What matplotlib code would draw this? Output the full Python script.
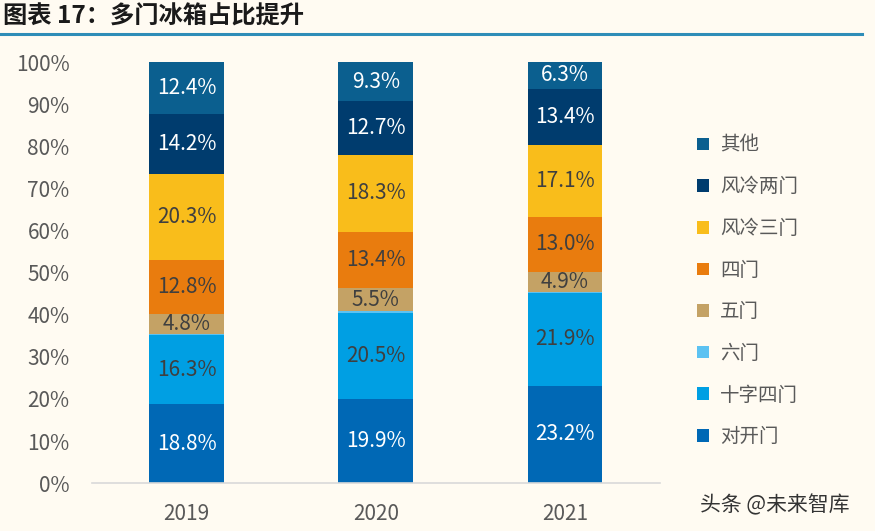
import numpy as np
import matplotlib
matplotlib.use("Agg")
import matplotlib.pyplot as plt
from matplotlib.patches import Patch

plt.rcParams["font.family"] = ["Noto Sans CJK SC", "DejaVu Sans"]

years = ["2019", "2020", "2021"]
series = ["对开门", "十字四门", "六门", "五门", "四门", "风冷三门", "风冷两门", "其他"]
duikai = [18.8, 19.9, 23.2]
shizi = [16.3, 20.5, 21.9]
liumen = [0.4, 0.4, 0.2]
wumen = [4.8, 5.5, 4.9]
simen = [12.8, 13.4, 13.0]
fl_san = [20.3, 18.3, 17.1]
fl_liang = [14.2, 12.7, 13.4]
qita = [12.4, 9.3, 6.3]

values = [duikai, shizi, liumen, wumen, simen, fl_san, fl_liang, qita]
colors = ["#0068B5", "#009FE3", "#5CC2F2", "#C4A265", "#E97C0E",
          "#F9BD1B", "#003C6E", "#0B5F8F"]
label_colors = ["white", "#3F3F3F", "#3F3F3F", "#3F3F3F", "#3F3F3F",
                "#3F3F3F", "white", "white"]

bg = "#FFFBF2"
fig = plt.figure(figsize=(8.75, 5.31), dpi=100, facecolor=bg)
ax = fig.add_axes([0.105, 0.090, 0.649, 0.793], facecolor=bg)

x = np.arange(len(years))
bottom = np.zeros(len(years))
for vals, col, lc in zip(values, colors, label_colors):
    vals = np.array(vals)
    ax.bar(x, vals, 0.395, bottom=bottom, color=col, linewidth=0)
    for xi, b, v in zip(x, bottom, vals):
        if v >= 1:
            ax.text(xi, b + v / 2, f"{v:.1f}%", ha="center", va="center",
                    fontsize=15, color=lc)
    bottom += vals

ax.set_xlim(-0.5, 2.5)
ax.set_ylim(0, 100)
ax.set_yticks(np.arange(0, 101, 10))
ax.set_yticklabels([f"{v}%" for v in range(0, 101, 10)])
ax.set_xticks(x)
ax.set_xticklabels(years)
ax.tick_params(axis="both", length=0, labelsize=15, colors="#595959")
ax.tick_params(axis="y", pad=16)
ax.tick_params(axis="x", pad=14)
for s in ["top", "right", "left"]:
    ax.spines[s].set_visible(False)
ax.spines["bottom"].set_color("#D9D9D9")
ax.spines["bottom"].set_linewidth(1.2)

handles = [Patch(facecolor=c, edgecolor="none") for c in colors[::-1]]
leg = fig.legend(handles, series[::-1], loc="upper left",
                 bbox_to_anchor=(0.797, 0.746), frameon=False,
                 borderaxespad=0, borderpad=0,
                 fontsize=14, handlelength=0.62, handleheight=0.62,
                 handletextpad=0.55, labelspacing=1.06, labelcolor="#595959")

fig.text(0.003, 0.968, "图表 17：多门冰箱占比提升", fontsize=17.5,
         fontweight="bold", color="#1A1A1A", va="center", ha="left")
fig.add_artist(plt.Line2D([0.0, 0.985], [0.936, 0.936], color="#2E8DB8",
                          linewidth=2.2, transform=fig.transFigure))
fig.text(0.8, 0.049, "头条 @未来智库", fontsize=15, color="#333333",
         va="center", ha="left")

fig.savefig("out.png", dpi=100, facecolor=bg)
